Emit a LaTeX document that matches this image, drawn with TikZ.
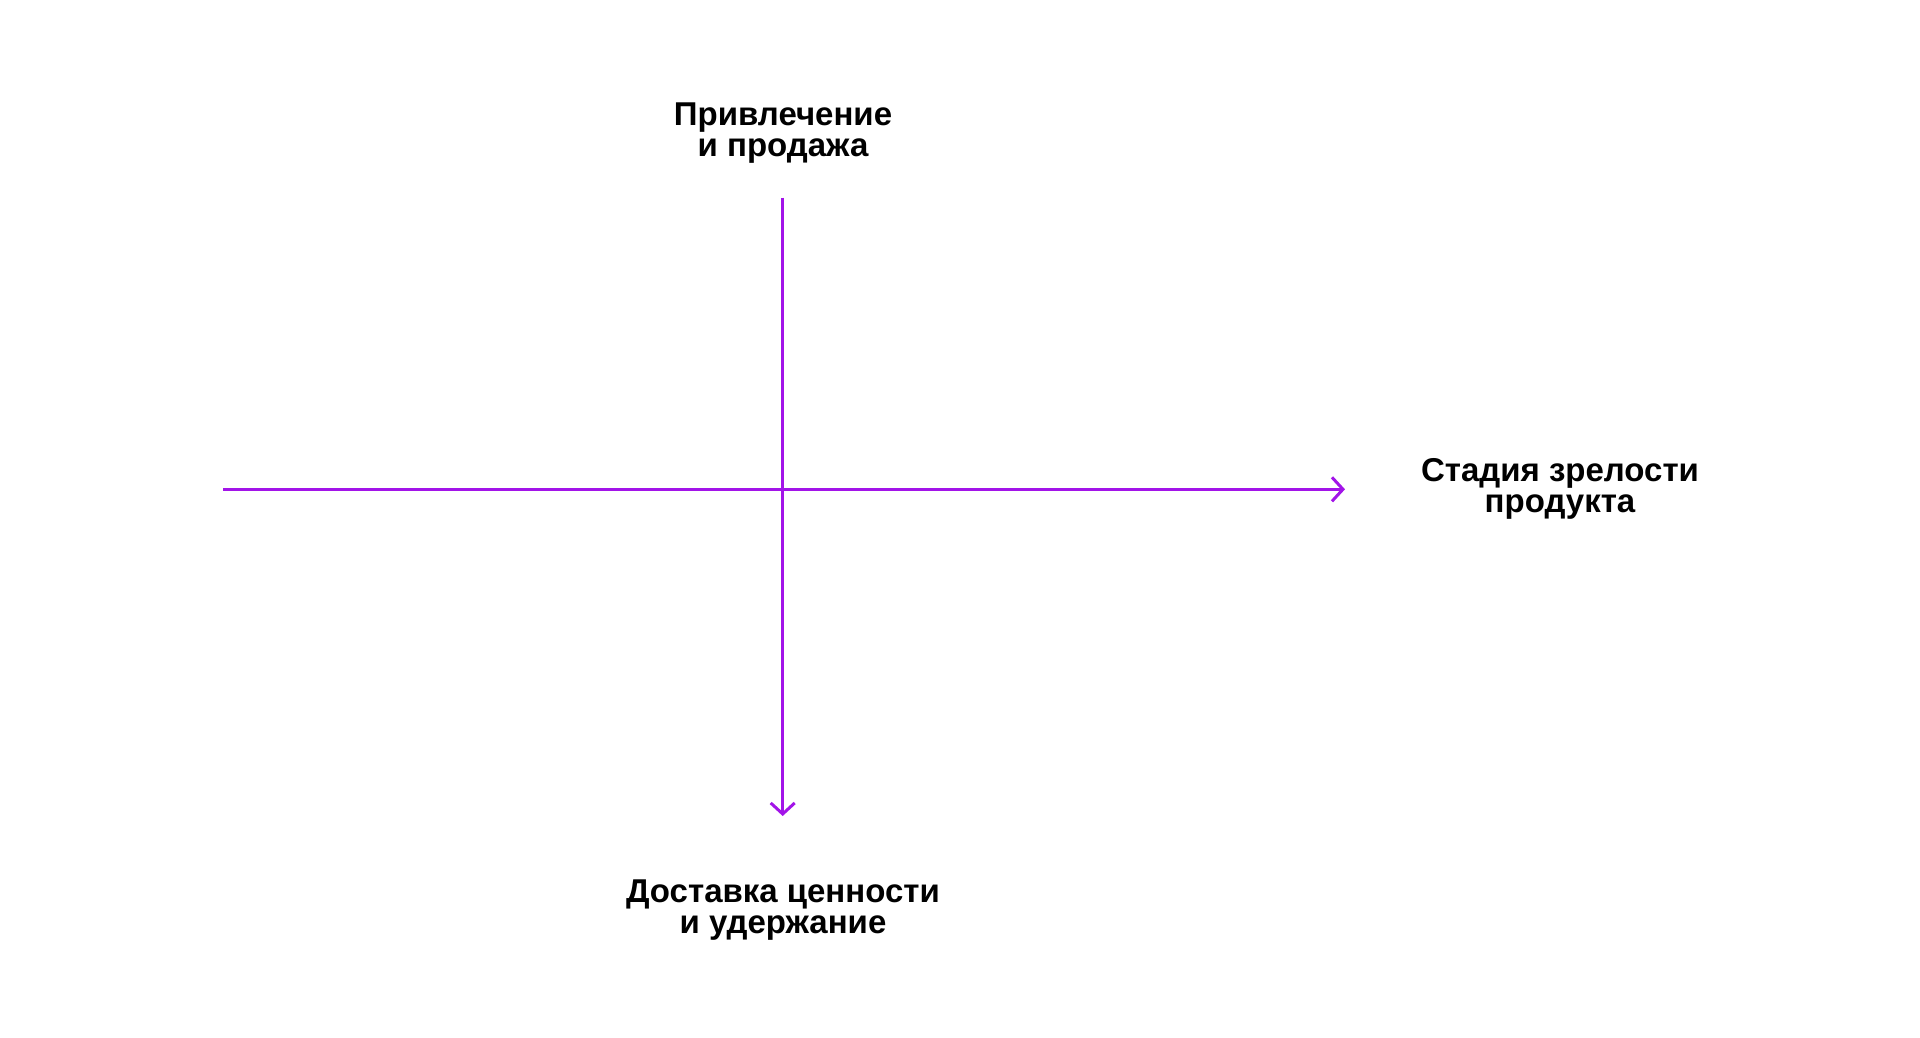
\documentclass[tikz,border=0pt]{standalone}
\usepackage{fontspec}
\setmainfont{Liberation Sans}
\usetikzlibrary{arrows.meta}
\definecolor{axispurple}{RGB}{162,20,232}
\begin{document}
\begin{tikzpicture}[x=1pt,y=1pt,
  axisline/.style={draw=axispurple,line width=3pt},
  axislabel/.style={align=center,inner sep=0pt,font=\fontsize{33}{31}\selectfont\bfseries}]
 \useasboundingbox (0,0) rectangle (1920,1037);
 \coordinate (origin) at (782.7,547.7);
 \coordinate (left) at (223,547.7);
 \coordinate (right) at (1345,547.7);
 \coordinate (top) at (782.7,839.3);
 \coordinate (bottom) at (782.7,221);
 \draw[axisline,-{Straight Barb[length=11pt,width=24pt,line width=3pt]}](left)--(right);
 \draw[axisline,-{Straight Barb[length=11pt,width=24pt,line width=3pt]}](top)--(bottom);
 \node[axislabel] (sales) at (783,904) {Привлечение\\и продажа};
 \node[axislabel] (maturity) at (1560,548) {Стадия зрелости\\продукта};
 \node[axislabel] (value) at (783,127) {Доставка ценности\\и удержание};
\end{tikzpicture}
\end{document}
